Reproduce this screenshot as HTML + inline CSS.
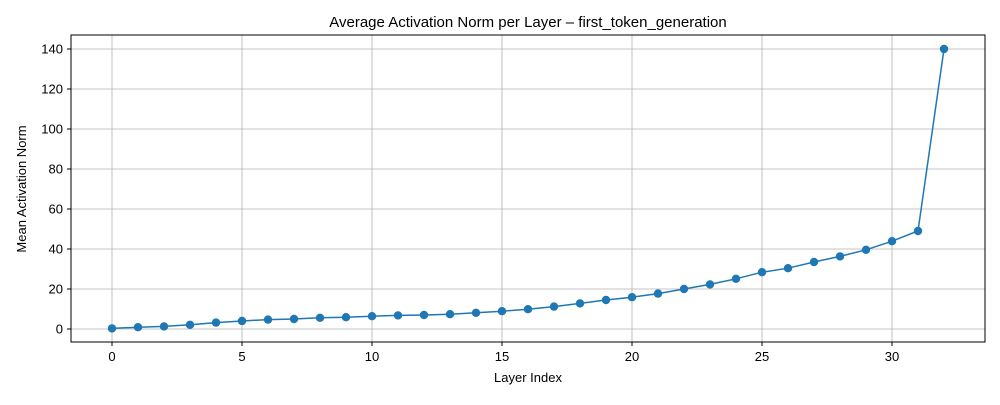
<!DOCTYPE html>
<html><head><meta charset="utf-8"><style>
body{margin:0;background:#fff;}
svg text{font-family:"Liberation Sans","DejaVu Sans",sans-serif;fill:#000;}
</style></head><body>
<svg id="chart" width="1000" height="400" viewBox="0 0 1000 400" xmlns="http://www.w3.org/2000/svg">
<rect width="1000" height="400" fill="#fff"/>
<g id="grid"></g>
<g id="ticks"></g>
<rect x="71" y="35" width="914" height="307" fill="none" stroke="#000" stroke-width="1"/>
<g id="series"></g>
<text x="528" y="27" font-size="15" text-anchor="middle">Average Activation Norm per Layer – first_token_generation</text>
<text x="528" y="382" font-size="13" text-anchor="middle">Layer Index</text>
<text x="26" y="189" font-size="13" text-anchor="middle" transform="rotate(-90 26 189)">Mean Activation Norm</text>
</svg>
<script>
const layers=[0,1,2,3,4,5,6,7,8,9,10,11,12,13,14,15,16,17,18,19,20,21,22,23,24,25,26,27,28,29,30,31,32];
const norms=[0.3,0.9,1.3,2.1,3.2,4.0,4.7,5.0,5.6,5.9,6.4,6.8,7.0,7.4,8.1,8.9,9.9,11.2,12.8,14.5,15.9,17.7,20.0,22.3,25.1,28.4,30.4,33.5,36.3,39.6,43.9,49.0,140.0];
const xTicks=[0,5,10,15,20,25,30];
const yTicks=[0,20,40,60,80,100,120,140];
const NS='http://www.w3.org/2000/svg';
const X=v=>112+26*v, Y=v=>329-2*v;
function mk(t,a,p){const e=document.createElementNS(NS,t);for(const k in a)e.setAttribute(k,a[k]);p.appendChild(e);return e;}
const grid=document.getElementById('grid'),ticks=document.getElementById('ticks'),series=document.getElementById('series');
xTicks.forEach(v=>{
 const g=mk('line',{x1:X(v),x2:X(v),y1:35,y2:342,stroke:'#b0b0b0','stroke-width':0.8},grid);
 
 
 mk('line',{x1:X(v),x2:X(v),y1:342,y2:346,stroke:'#000'},ticks);
 const t=mk('text',{x:X(v),y:361,'font-size':13,'text-anchor':'middle'},ticks);t.textContent=v;
 
 
});
yTicks.forEach(v=>{
 const g=mk('line',{x1:71,x2:985,y1:Y(v),y2:Y(v),stroke:'#b0b0b0','stroke-width':0.8},grid);
 
 
 mk('line',{x1:67,x2:71,y1:Y(v),y2:Y(v),stroke:'#000'},ticks);
 const t=mk('text',{x:63,y:Y(v)+4.5,'font-size':13,'text-anchor':'end'},ticks);t.textContent=v;
 
 
});
const line=mk('polyline',{points:layers.map((l,i)=>X(l)+','+Y(norms[i])).join(' '),fill:'none',stroke:'#1f77b4','stroke-width':1.5},series);


layers.forEach((l,i)=>{
 const c=mk('circle',{cx:X(l),cy:Y(norms[i]),r:4.2,fill:'#1f77b4'},series);
 
 
});
</script>
</body></html>
